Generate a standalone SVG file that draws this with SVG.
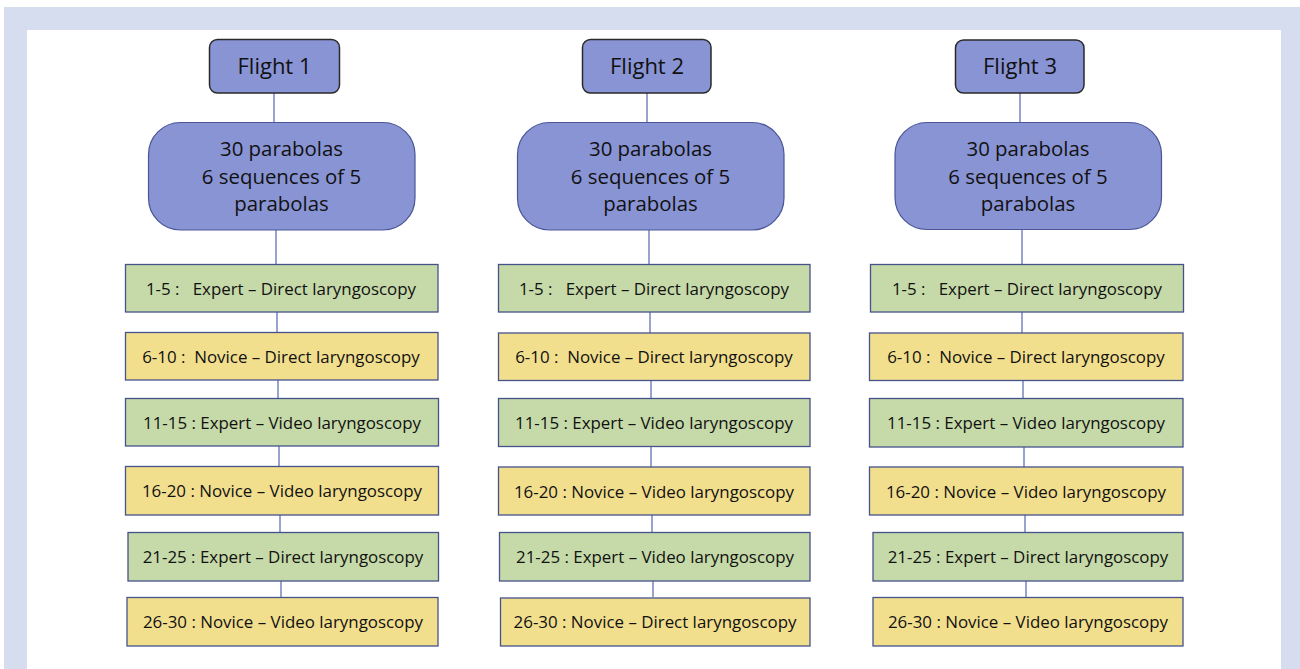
<svg xmlns="http://www.w3.org/2000/svg" width="1300" height="669" viewBox="0 0 1300 669">
<style>
.flight{fill:#8994D4;stroke:#2A2A2A;stroke-width:1.5}
.para{fill:#8994D4;stroke:#4A5696;stroke-width:1.2}
.g{fill:#C5DAA8;stroke:#46538A;stroke-width:1.3}
.y{fill:#F2DF8E;stroke:#46538A;stroke-width:1.3}
.conn line{stroke:#5566B0;stroke-width:1.2}
text{font-family:"Open Sans","Liberation Sans",sans-serif;fill:#111;text-anchor:middle;white-space:pre}
.ft{font-size:22px}
.pt{font-size:20.4px}
.rt{font-size:16.9px}
</style>
<rect x="0" y="0" width="1300" height="669" fill="#FFFFFF"/>
<rect x="4" y="7" width="1296" height="662" fill="#D5DDEF"/>
<rect x="27" y="30" width="1254" height="639" fill="#FFFFFF"/>
<g class="conn">
<line x1="274" y1="93" x2="274" y2="122"/>
<line x1="276" y1="230" x2="276" y2="264"/>
<line x1="277" y1="312" x2="277" y2="332"/>
<line x1="278" y1="380" x2="278" y2="398"/>
<line x1="279" y1="446" x2="279" y2="466"/>
<line x1="280" y1="515" x2="280" y2="532"/>
<line x1="281" y1="581" x2="281" y2="597"/>
<line x1="647" y1="93" x2="647" y2="122"/>
<line x1="649" y1="230" x2="649" y2="264"/>
<line x1="650" y1="312" x2="650" y2="333"/>
<line x1="651" y1="381" x2="651" y2="398"/>
<line x1="651" y1="447" x2="651" y2="467"/>
<line x1="652" y1="515" x2="652" y2="532"/>
<line x1="653" y1="581" x2="653" y2="597"/>
<line x1="1020" y1="93" x2="1020" y2="122"/>
<line x1="1022" y1="229" x2="1022" y2="264"/>
<line x1="1022" y1="312" x2="1022" y2="333"/>
<line x1="1023" y1="381" x2="1023" y2="398"/>
<line x1="1024" y1="447" x2="1024" y2="467"/>
<line x1="1025" y1="515" x2="1025" y2="532"/>
<line x1="1026" y1="581" x2="1026" y2="597"/>
</g>
<g id="flight1"><rect class="flight" x="209.5" y="39.5" width="130" height="53.5" rx="8"/><text class="ft" x="274.5" y="74">Flight 1</text></g>
<g id="flight2"><rect class="flight" x="582.5" y="39.5" width="128.5" height="53.5" rx="8"/><text class="ft" x="647" y="74">Flight 2</text></g>
<g id="flight3"><rect class="flight" x="955.5" y="40" width="128.5" height="53" rx="8"/><text class="ft" x="1020" y="74">Flight 3</text></g>
<g id="para1"><rect class="para" x="148.5" y="122.5" width="266.5" height="107.5" rx="32"/><text class="pt" x="281.5" y="155.5">30 parabolas</text><text class="pt" x="281.5" y="184">6 sequences of 5</text><text class="pt" x="281.5" y="211">parabolas</text></g>
<g id="para2"><rect class="para" x="517.5" y="122.5" width="266.5" height="107.5" rx="32"/><text class="pt" x="650.5" y="155.5">30 parabolas</text><text class="pt" x="650.5" y="184">6 sequences of 5</text><text class="pt" x="650.5" y="211">parabolas</text></g>
<g id="para3"><rect class="para" x="895" y="122.5" width="266.5" height="107" rx="32"/><text class="pt" x="1028" y="155.5">30 parabolas</text><text class="pt" x="1028" y="184">6 sequences of 5</text><text class="pt" x="1028" y="211">parabolas</text></g>
<g id="c1r1"><rect class="g" x="125.5" y="264.5" width="312.5" height="47.5"/><text class="rt" x="281" y="294.5">1-5 :   Expert – Direct laryngoscopy</text></g>
<g id="c1r2"><rect class="y" x="125.5" y="332.5" width="312.5" height="47.5"/><text class="rt" x="281" y="362.5">6-10 :  Novice – Direct laryngoscopy</text></g>
<g id="c1r3"><rect class="g" x="125.5" y="398.5" width="313" height="47.5"/><text class="rt" x="282" y="428.5">11-15 : Expert – Video laryngoscopy</text></g>
<g id="c1r4"><rect class="y" x="125.5" y="466.5" width="313" height="48.5"/><text class="rt" x="282" y="497">16-20 : Novice – Video laryngoscopy</text></g>
<g id="c1r5"><rect class="g" x="128" y="532.5" width="310.5" height="48.5"/><text class="rt" x="283" y="562.5">21-25 : Expert – Direct laryngoscopy</text></g>
<g id="c1r6"><rect class="y" x="127" y="597.5" width="311" height="48.5"/><text class="rt" x="283" y="627.5">26-30 : Novice – Video laryngoscopy</text></g>
<g id="c2r1"><rect class="g" x="498.5" y="264.5" width="311.5" height="47.5"/><text class="rt" x="654" y="294.5">1-5 :   Expert – Direct laryngoscopy</text></g>
<g id="c2r2"><rect class="y" x="498.5" y="333" width="311.5" height="47.5"/><text class="rt" x="654" y="363">6-10 :  Novice – Direct laryngoscopy</text></g>
<g id="c2r3"><rect class="g" x="498.5" y="398.5" width="311.5" height="48"/><text class="rt" x="654" y="429">11-15 : Expert – Video laryngoscopy</text></g>
<g id="c2r4"><rect class="y" x="498.5" y="467" width="311.5" height="48"/><text class="rt" x="654" y="497.5">16-20 : Novice – Video laryngoscopy</text></g>
<g id="c2r5"><rect class="g" x="499.5" y="532.5" width="310.5" height="48.5"/><text class="rt" x="655" y="562.5">21-25 : Expert – Video laryngoscopy</text></g>
<g id="c2r6"><rect class="y" x="500.5" y="598" width="309.5" height="48"/><text class="rt" x="655" y="628">26-30 : Novice – Direct laryngoscopy</text></g>
<g id="c3r1"><rect class="g" x="870.5" y="264.5" width="313" height="47.5"/><text class="rt" x="1027" y="294.5">1-5 :   Expert – Direct laryngoscopy</text></g>
<g id="c3r2"><rect class="y" x="869.5" y="333" width="313.5" height="47.5"/><text class="rt" x="1026" y="363">6-10 :  Novice – Direct laryngoscopy</text></g>
<g id="c3r3"><rect class="g" x="869.5" y="398.5" width="313.5" height="48.5"/><text class="rt" x="1026" y="429">11-15 : Expert – Video laryngoscopy</text></g>
<g id="c3r4"><rect class="y" x="869.5" y="467" width="313.5" height="48"/><text class="rt" x="1026" y="497.5">16-20 : Novice – Video laryngoscopy</text></g>
<g id="c3r5"><rect class="g" x="873" y="532.5" width="310" height="48.5"/><text class="rt" x="1028" y="562.5">21-25 : Expert – Direct laryngoscopy</text></g>
<g id="c3r6"><rect class="y" x="873" y="597.5" width="310" height="48.5"/><text class="rt" x="1028" y="627.5">26-30 : Novice – Video laryngoscopy</text></g>
</svg>
